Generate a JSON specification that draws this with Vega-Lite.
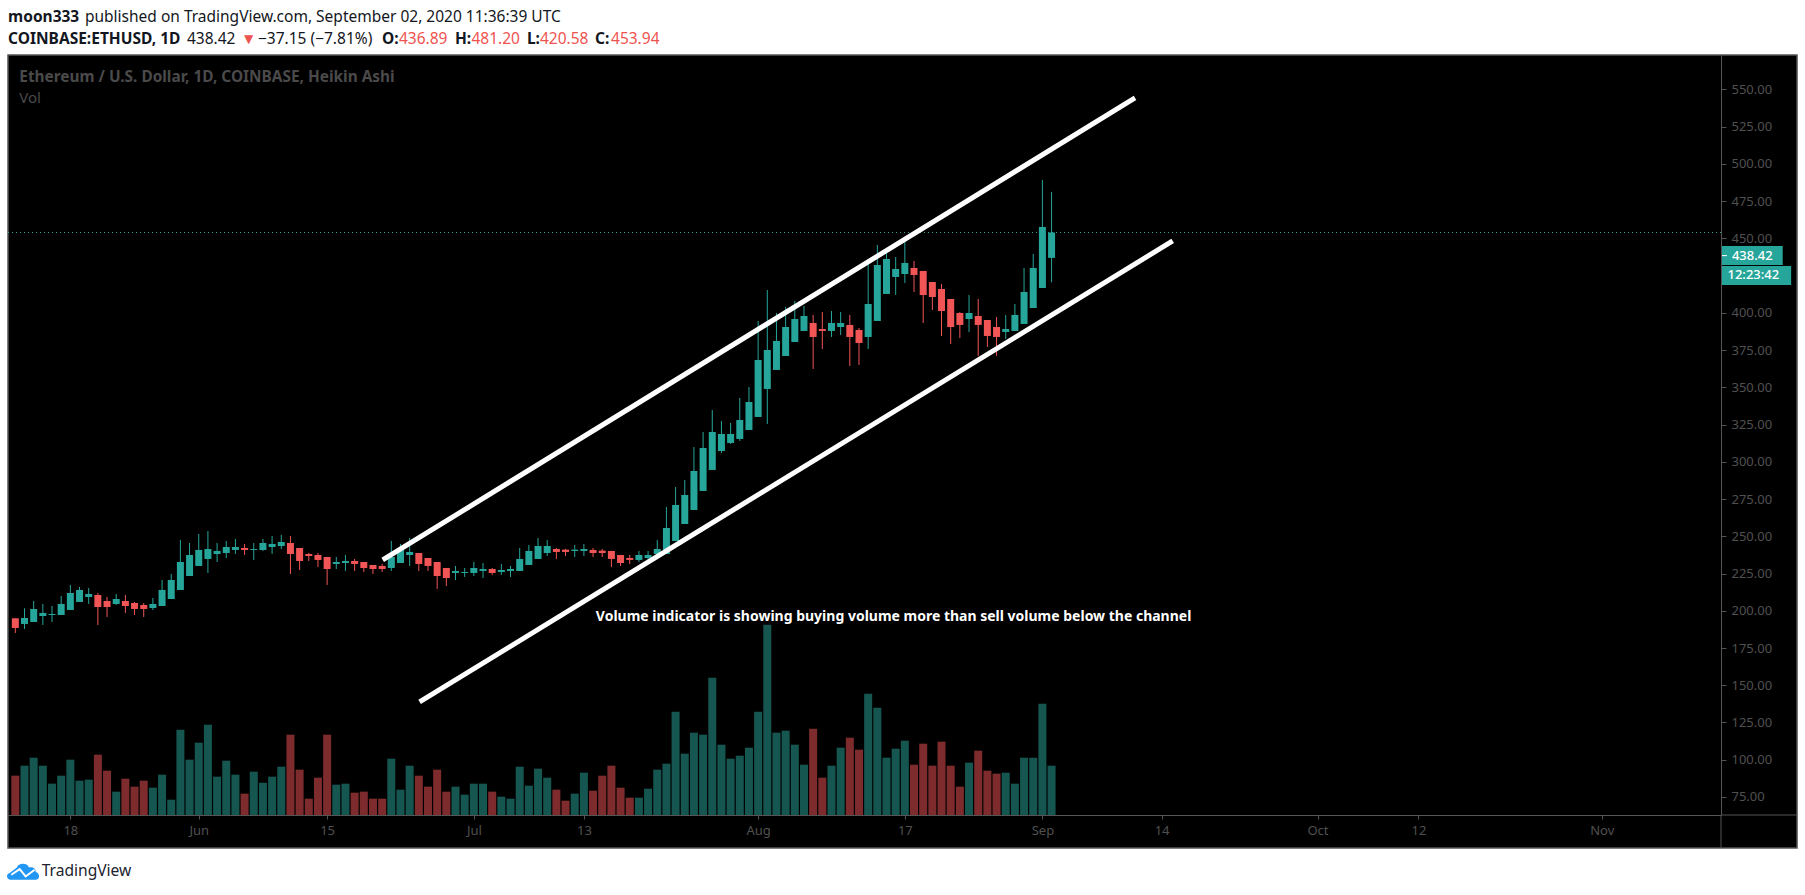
{
  "$schema": "https://vega.github.io/schema/vega-lite/v6.json",
  "width": 1713,
  "height": 760,
  "padding": {"left": 8, "top": 55, "right": 84, "bottom": 80},
  "autosize": {"type": "none"},
  "background": "#ffffff",
  "config": {"view": {"stroke": null}},
  "datasets": {
    "ohlc": [
      {"date":"2020-05-12","open":194.95,"high":194.95,"low":185.1,"close":188.46,"side":"down","volume":118},
      {"date":"2020-05-13","open":191.14,"high":201.66,"low":187.78,"close":195.17,"side":"up","volume":148},
      {"date":"2020-05-14","open":192.48,"high":206.58,"low":192.48,"close":201.21,"side":"up","volume":172},
      {"date":"2020-05-15","open":196.51,"high":204.57,"low":190.47,"close":198.53,"side":"up","volume":148},
      {"date":"2020-05-16","open":197.18,"high":203.22,"low":192.48,"close":197.85,"side":"up","volume":94},
      {"date":"2020-05-17","open":197.18,"high":209.94,"low":197.18,"close":204.57,"side":"up","volume":118},
      {"date":"2020-05-18","open":200.54,"high":217.32,"low":200.54,"close":211.95,"side":"up","volume":166},
      {"date":"2020-05-19","open":205.91,"high":215.98,"low":205.91,"close":213.97,"side":"up","volume":103},
      {"date":"2020-05-20","open":209.27,"high":215.31,"low":204.57,"close":211.28,"side":"up","volume":106},
      {"date":"2020-05-21","open":210.61,"high":211.95,"low":190.47,"close":202.55,"side":"down","volume":181},
      {"date":"2020-05-22","open":206.58,"high":209.27,"low":195.84,"close":202.55,"side":"down","volume":133},
      {"date":"2020-05-23","open":204.57,"high":211.28,"low":203.9,"close":207.92,"side":"up","volume":70},
      {"date":"2020-05-24","open":206.58,"high":210.61,"low":198.53,"close":203.22,"side":"down","volume":109},
      {"date":"2020-05-25","open":205.24,"high":205.91,"low":197.18,"close":201.21,"side":"down","volume":85},
      {"date":"2020-05-26","open":203.9,"high":205.24,"low":195.84,"close":201.21,"side":"down","volume":103},
      {"date":"2020-05-27","open":201.88,"high":208.6,"low":200.54,"close":204.57,"side":"up","volume":82},
      {"date":"2020-05-28","open":203.22,"high":220.68,"low":203.22,"close":213.97,"side":"up","volume":121},
      {"date":"2020-05-29","open":207.92,"high":224.71,"low":207.92,"close":220.68,"side":"up","volume":46},
      {"date":"2020-05-30","open":213.97,"high":247.53,"low":213.97,"close":232.76,"side":"up","volume":256},
      {"date":"2020-05-31","open":223.36,"high":245.52,"low":223.36,"close":237.46,"side":"up","volume":166},
      {"date":"2020-06-01","open":230.08,"high":251.56,"low":230.08,"close":240.82,"side":"up","volume":217},
      {"date":"2020-06-02","open":234.78,"high":253.57,"low":225.38,"close":241.49,"side":"up","volume":271},
      {"date":"2020-06-03","open":238.13,"high":245.52,"low":232.76,"close":240.15,"side":"up","volume":115},
      {"date":"2020-06-04","open":238.8,"high":246.86,"low":235.45,"close":242.83,"side":"up","volume":163},
      {"date":"2020-06-05","open":240.82,"high":248.2,"low":238.13,"close":242.83,"side":"up","volume":121},
      {"date":"2020-06-06","open":242.16,"high":244.85,"low":237.46,"close":240.82,"side":"down","volume":64},
      {"date":"2020-06-07","open":240.82,"high":245.52,"low":234.11,"close":241.49,"side":"up","volume":130},
      {"date":"2020-06-08","open":240.82,"high":248.2,"low":240.15,"close":245.52,"side":"up","volume":97},
      {"date":"2020-06-09","open":242.83,"high":250.22,"low":238.13,"close":244.85,"side":"up","volume":115},
      {"date":"2020-06-10","open":243.5,"high":250.89,"low":241.49,"close":246.19,"side":"up","volume":145},
      {"date":"2020-06-11","open":245.52,"high":250.22,"low":224.71,"close":238.13,"side":"down","volume":241},
      {"date":"2020-06-12","open":242.16,"high":242.16,"low":227.39,"close":233.43,"side":"down","volume":136},
      {"date":"2020-06-13","open":238.13,"high":238.8,"low":233.43,"close":236.79,"side":"down","volume":49},
      {"date":"2020-06-14","open":237.46,"high":238.8,"low":229.41,"close":234.11,"side":"down","volume":112},
      {"date":"2020-06-15","open":236.12,"high":236.12,"low":217.32,"close":228.06,"side":"down","volume":241},
      {"date":"2020-06-16","open":231.42,"high":236.12,"low":228.06,"close":232.76,"side":"up","volume":91},
      {"date":"2020-06-17","open":232.09,"high":237.46,"low":226.72,"close":233.43,"side":"up","volume":94},
      {"date":"2020-06-18","open":233.43,"high":234.78,"low":226.72,"close":231.42,"side":"down","volume":67},
      {"date":"2020-06-19","open":232.76,"high":232.76,"low":226.05,"close":228.73,"side":"down","volume":70},
      {"date":"2020-06-20","open":230.75,"high":230.75,"low":224.71,"close":228.06,"side":"down","volume":49},
      {"date":"2020-06-21","open":230.08,"high":231.42,"low":226.05,"close":228.06,"side":"down","volume":49},
      {"date":"2020-06-22","open":228.73,"high":246.86,"low":226.72,"close":236.12,"side":"up","volume":169},
      {"date":"2020-06-23","open":232.09,"high":244.85,"low":232.09,"close":240.82,"side":"up","volume":76},
      {"date":"2020-06-24","open":237.46,"high":248.87,"low":230.08,"close":239.48,"side":"up","volume":148},
      {"date":"2020-06-25","open":238.8,"high":238.8,"low":226.72,"close":231.42,"side":"down","volume":118},
      {"date":"2020-06-26","open":235.45,"high":235.45,"low":226.72,"close":230.08,"side":"down","volume":85},
      {"date":"2020-06-27","open":232.76,"high":232.76,"low":214.64,"close":223.36,"side":"down","volume":136},
      {"date":"2020-06-28","open":228.73,"high":228.73,"low":216.65,"close":222.02,"side":"down","volume":70},
      {"date":"2020-06-29","open":225.38,"high":230.08,"low":220.68,"close":226.72,"side":"up","volume":85},
      {"date":"2020-06-30","open":225.38,"high":228.73,"low":222.69,"close":226.05,"side":"up","volume":61},
      {"date":"2020-07-01","open":225.38,"high":232.76,"low":223.36,"close":228.73,"side":"up","volume":94},
      {"date":"2020-07-02","open":226.72,"high":232.09,"low":222.02,"close":228.06,"side":"up","volume":94},
      {"date":"2020-07-03","open":228.06,"high":228.73,"low":224.04,"close":225.38,"side":"down","volume":70},
      {"date":"2020-07-04","open":226.05,"high":231.42,"low":224.04,"close":227.39,"side":"up","volume":55},
      {"date":"2020-07-05","open":226.72,"high":230.08,"low":222.69,"close":228.06,"side":"up","volume":49},
      {"date":"2020-07-06","open":226.72,"high":242.16,"low":226.72,"close":234.78,"side":"up","volume":145},
      {"date":"2020-07-07","open":230.75,"high":244.17,"low":230.75,"close":240.15,"side":"up","volume":88},
      {"date":"2020-07-08","open":234.78,"high":248.87,"low":234.78,"close":243.5,"side":"up","volume":139},
      {"date":"2020-07-09","open":238.8,"high":247.53,"low":236.79,"close":243.5,"side":"up","volume":112},
      {"date":"2020-07-10","open":241.49,"high":242.16,"low":234.78,"close":239.48,"side":"down","volume":76},
      {"date":"2020-07-11","open":241.04,"high":241.49,"low":236.79,"close":239.48,"side":"down","volume":43},
      {"date":"2020-07-12","open":240.15,"high":244.17,"low":236.12,"close":241.04,"side":"up","volume":64},
      {"date":"2020-07-13","open":240.15,"high":244.85,"low":236.79,"close":241.49,"side":"up","volume":127},
      {"date":"2020-07-14","open":240.82,"high":242.16,"low":236.12,"close":238.8,"side":"down","volume":73},
      {"date":"2020-07-15","open":240.37,"high":241.49,"low":236.12,"close":238.8,"side":"down","volume":118},
      {"date":"2020-07-16","open":240.15,"high":240.15,"low":229.41,"close":234.78,"side":"down","volume":148},
      {"date":"2020-07-17","open":237.46,"high":237.46,"low":230.08,"close":232.09,"side":"down","volume":82},
      {"date":"2020-07-18","open":235.45,"high":237.46,"low":231.42,"close":234.11,"side":"down","volume":52},
      {"date":"2020-07-19","open":234.11,"high":240.15,"low":232.76,"close":237.46,"side":"up","volume":52},
      {"date":"2020-07-20","open":235.45,"high":240.15,"low":234.11,"close":237.46,"side":"up","volume":79},
      {"date":"2020-07-21","open":238.13,"high":247.53,"low":238.13,"close":241.49,"side":"up","volume":136},
      {"date":"2020-07-22","open":238.14,"high":269.69,"low":238.14,"close":255.59,"side":"up","volume":154},
      {"date":"2020-07-23","open":246.86,"high":283.11,"low":246.86,"close":271.03,"side":"up","volume":310},
      {"date":"2020-07-24","open":258.27,"high":287.81,"low":258.27,"close":277.74,"side":"up","volume":184},
      {"date":"2020-07-25","open":267.67,"high":309.97,"low":267.67,"close":293.85,"side":"up","volume":247},
      {"date":"2020-07-26","open":280.43,"high":320.04,"low":280.43,"close":309.29,"side":"up","volume":241},
      {"date":"2020-07-27","open":294.53,"high":334.8,"low":294.53,"close":320.04,"side":"up","volume":412},
      {"date":"2020-07-28","open":307.28,"high":327.42,"low":305.94,"close":318.69,"side":"up","volume":211},
      {"date":"2020-07-29","open":312.65,"high":326.08,"low":311.98,"close":318.69,"side":"up","volume":169},
      {"date":"2020-07-30","open":315.34,"high":342.86,"low":313.99,"close":328.09,"side":"up","volume":178},
      {"date":"2020-07-31","open":321.38,"high":350.24,"low":321.38,"close":340.17,"side":"up","volume":202},
      {"date":"2020-08-01","open":330.11,"high":394.55,"low":330.11,"close":368.37,"side":"up","volume":310},
      {"date":"2020-08-02","open":348.9,"high":415.36,"low":325.41,"close":375.08,"side":"up","volume":571},
      {"date":"2020-08-03","open":361.66,"high":399.92,"low":361.66,"close":381.13,"side":"up","volume":247},
      {"date":"2020-08-04","open":371.05,"high":403.95,"low":371.05,"close":390.52,"side":"up","volume":253},
      {"date":"2020-08-05","open":380.45,"high":407.98,"low":380.45,"close":395.89,"side":"up","volume":211},
      {"date":"2020-08-06","open":387.84,"high":404.62,"low":387.84,"close":397.91,"side":"up","volume":151},
      {"date":"2020-08-07","open":393.21,"high":398.58,"low":362.33,"close":383.81,"side":"down","volume":259},
      {"date":"2020-08-08","open":389.18,"high":400.59,"low":375.75,"close":387.84,"side":"down","volume":112},
      {"date":"2020-08-09","open":387.84,"high":401.26,"low":383.81,"close":393.21,"side":"up","volume":148},
      {"date":"2020-08-10","open":390.52,"high":400.59,"low":385.15,"close":393.21,"side":"up","volume":202},
      {"date":"2020-08-11","open":391.87,"high":398.58,"low":364.34,"close":383.81,"side":"down","volume":232},
      {"date":"2020-08-12","open":388.51,"high":389.85,"low":365.01,"close":379.78,"side":"down","volume":196},
      {"date":"2020-08-13","open":383.81,"high":433.26,"low":375.75,"close":405.96,"side":"up","volume":364},
      {"date":"2020-08-14","open":394.55,"high":445.57,"low":394.55,"close":432.14,"side":"up","volume":322},
      {"date":"2020-08-15","open":412.68,"high":442.21,"low":412.68,"close":436.17,"side":"up","volume":172},
      {"date":"2020-08-16","open":424.09,"high":437.51,"low":412,"close":429.46,"side":"up","volume":199},
      {"date":"2020-08-17","open":426.1,"high":448.93,"low":420.06,"close":433.49,"side":"up","volume":223},
      {"date":"2020-08-18","open":430.13,"high":434.83,"low":414.02,"close":425.43,"side":"down","volume":151},
      {"date":"2020-08-19","open":428.12,"high":428.12,"low":393.21,"close":412,"side":"down","volume":214},
      {"date":"2020-08-20","open":420.73,"high":420.73,"low":401.94,"close":410.66,"side":"down","volume":148},
      {"date":"2020-08-21","open":416.03,"high":419.39,"low":384.48,"close":401.26,"side":"down","volume":220},
      {"date":"2020-08-22","open":409.32,"high":409.32,"low":379.11,"close":390.52,"side":"down","volume":148},
      {"date":"2020-08-23","open":399.92,"high":400.59,"low":383.14,"close":391.87,"side":"down","volume":85},
      {"date":"2020-08-24","open":395.89,"high":412,"low":387.17,"close":399.92,"side":"up","volume":157},
      {"date":"2020-08-25","open":397.91,"high":409.32,"low":371.05,"close":391.87,"side":"down","volume":193},
      {"date":"2020-08-26","open":395.22,"high":395.22,"low":377.1,"close":384.48,"side":"down","volume":133},
      {"date":"2020-08-27","open":390.52,"high":397.24,"low":371.05,"close":383.81,"side":"down","volume":124},
      {"date":"2020-08-28","open":387.17,"high":398.58,"low":382.47,"close":389.18,"side":"up","volume":127},
      {"date":"2020-08-29","open":387.84,"high":405.96,"low":387.84,"close":398.58,"side":"up","volume":94},
      {"date":"2020-08-30","open":392.54,"high":430.13,"low":392.54,"close":414.02,"side":"up","volume":172},
      {"date":"2020-08-31","open":403.28,"high":439.53,"low":403.28,"close":430.13,"side":"up","volume":172},
      {"date":"2020-09-01","open":416.7,"high":489.2,"low":416.7,"close":457.65,"side":"up","volume":334},
      {"date":"2020-09-02","open":436.89,"high":481.2,"low":420.58,"close":453.94,"side":"up","volume":148}
    ]
  },
  "encoding": {
    "x": {
      "field": "date",
      "type": "temporal",
      "title": null,
      "scale": {"type": "utc", "padding": 0, "domain": ["2020-05-11T04:48:00Z", "2020-11-14T00:00:00Z"]},
      "axis": {
        "values": ["2020-05-18", "2020-06-01", "2020-06-15", "2020-07-01", "2020-07-13", "2020-08-01", "2020-08-17", "2020-09-01", "2020-09-14", "2020-10-01", "2020-10-12", "2020-11-01"],
        "labelExpr": "utcdate(datum.value) == 1 ? utcFormat(datum.value, '%b') : utcFormat(datum.value, '%-d')",
        "grid": false,
        "zindex": 1,
        "domainColor": "#555555",
        "tickColor": "#555555",
        "tickSize": 4,
        "labelColor": "#505050",
        "labelFont": "Noto Sans",
        "labelFontSize": 13,
        "labelPadding": 5,
        "labelOverlap": false
      }
    }
  },
  "resolve": {"scale": {"y": "independent", "color": "independent"}},
  "layer": [
    {
      "data": {
        "values": [{"date": "2020-05-11T04:48:00Z", "date2": "2020-11-22T07:00:00Z", "price": 573.1, "price2": 40.8}],
        "format": {"parse": {"date2": "date"}}
      },
      "mark": {"type": "rect", "fill": "#000000", "stroke": "#555555", "strokeWidth": 1.5},
      "encoding": {
        "x2": {"field": "date2"},
        "y": {"field": "price", "type": "quantitative", "axis": null, "scale": {"domain": [62.9, 573.1]}},
        "y2": {"field": "price2"}
      }
    },
    {
      "data": {"name": "ohlc"},
      "mark": {"type": "bar", "size": 8},
      "encoding": {
        "y": {"field": "volume", "type": "quantitative", "axis": null, "scale": {"domain": [0, 2280]}},
        "color": {"field": "side", "type": "nominal", "legend": null, "scale": {"domain": ["up", "down"], "range": ["#165650", "#7e2b2d"]}}
      }
    },
    {
      "encoding": {
        "y": {
          "field": "price",
          "type": "quantitative",
          "title": null,
          "scale": {"domain": [62.9, 573.1]},
          "axis": {
            "orient": "right",
            "values": [75, 100, 125, 150, 175, 200, 225, 250, 275, 300, 325, 350, 375, 400, 450, 475, 500, 525, 550],
            "format": ".2f",
            "grid": false,
            "zindex": 1,
            "domainColor": "#555555",
            "tickColor": "#555555",
            "tickSize": 5,
            "labelColor": "#505050",
            "labelFont": "Noto Sans",
            "labelFontSize": 13,
            "labelPadding": 5
          }
        }
      },
      "layer": [
        {
          "data": {"values": [{"date": "2020-11-14", "date2": "2020-11-22T07:00:00Z", "price": 62.9}], "format": {"parse": {"date2": "date"}}},
          "mark": {"type": "rule", "color": "#555555"},
          "encoding": {"x2": {"field": "date2"}}
        },
        {
          "data": {"values": [{"date": "2020-11-14", "price": 62.9, "price2": 40.8}]},
          "mark": {"type": "rule", "color": "#555555"},
          "encoding": {"y2": {"field": "price2"}}
        },
        {
          "data": {"values": [{"date": "2020-05-11T04:48:00Z", "date2": "2020-11-14", "price": 453.94}], "format": {"parse": {"date2": "date"}}},
          "mark": {"type": "rule", "color": "#26a69a", "strokeDash": [1, 3], "strokeWidth": 1},
          "encoding": {"x2": {"field": "date2"}}
        },
        {
          "data": {"name": "ohlc"},
          "mark": {"type": "rule", "strokeWidth": 1},
          "encoding": {
            "y": {"field": "low", "type": "quantitative"},
            "y2": {"field": "high"},
            "color": {"field": "side", "type": "nominal", "legend": null, "scale": {"domain": ["up", "down"], "range": ["#26a69a", "#f25555"]}}
          }
        },
        {
          "data": {"name": "ohlc"},
          "mark": {"type": "bar", "size": 7},
          "encoding": {
            "y": {"field": "open", "type": "quantitative"},
            "y2": {"field": "close"},
            "color": {"field": "side", "type": "nominal", "legend": null, "scale": {"domain": ["up", "down"], "range": ["#26a69a", "#f25555"]}}
          }
        },
        {
          "data": {
            "values": [
              {"date": "2020-06-21T01:30:00Z", "price": 234.1, "channel": "upper"},
              {"date": "2020-09-11T02:24:00Z", "price": 544.3, "channel": "upper"},
              {"date": "2020-06-25T02:00:00Z", "price": 138.8, "channel": "lower"},
              {"date": "2020-09-15T05:00:00Z", "price": 448.3, "channel": "lower"}
            ]
          },
          "mark": {"type": "line", "color": "#ffffff", "strokeWidth": 5, "strokeCap": "butt"},
          "encoding": {"detail": {"field": "channel"}}
        },
        {
          "data": {"values": [{"date": "2020-07-14T07:12:00Z", "price": 195.8, "label": "Volume indicator is showing buying volume more than sell volume below the channel"}]},
          "mark": {"type": "text", "align": "left", "baseline": "middle", "color": "#ffffff", "font": "Noto Sans", "fontSize": 14, "fontWeight": "bold"},
          "encoding": {"text": {"field": "label"}}
        },
        {
          "data": {
            "values": [
              {"date": "2020-11-14", "date2": "2020-11-20T17:30:00Z", "price": 444.9, "price2": 432.1},
              {"date": "2020-11-14T02:30:00Z", "date2": "2020-11-21T15:36:00Z", "price": 431.5, "price2": 418.7}
            ],
            "format": {"parse": {"date2": "date"}}
          },
          "mark": {"type": "rect", "fill": "#26a69a"},
          "encoding": {"x2": {"field": "date2"}, "y2": {"field": "price2"}}
        },
        {
          "data": {"values": [{"date": "2020-11-14", "date2": "2020-11-14T15:36:00Z", "price": 438.42}], "format": {"parse": {"date2": "date"}}},
          "mark": {"type": "rule", "color": "#ffffff"},
          "encoding": {"x2": {"field": "date2"}}
        },
        {
          "data": {
            "values": [
              {"date": "2020-11-15T04:30:00Z", "price": 438.42, "label": "438.42"},
              {"date": "2020-11-14T17:00:00Z", "price": 425.1, "label": "12:23:42"}
            ]
          },
          "mark": {"type": "text", "align": "left", "baseline": "middle", "color": "#ffffff", "font": "Noto Sans", "fontSize": 13, "fontWeight": 500},
          "encoding": {"text": {"field": "label"}}
        },
        {
          "data": {"values": [{"date": "2020-05-12T10:20:00Z", "price": 558.4, "label": "Ethereum / U.S. Dollar, 1D, COINBASE, Heikin Ashi"}]},
          "mark": {"type": "text", "align": "left", "baseline": "middle", "color": "#4a4a4a", "font": "Noto Sans", "fontSize": 15.4, "fontWeight": "bold"},
          "encoding": {"text": {"field": "label"}}
        },
        {
          "data": {"values": [{"date": "2020-05-12T10:20:00Z", "price": 544.3, "label": "Vol"}]},
          "mark": {"type": "text", "align": "left", "baseline": "middle", "color": "#4a4a4a", "font": "Noto Sans", "fontSize": 15},
          "encoding": {"text": {"field": "label"}}
        },
        {
          "data": {
            "values": [
              {"date": "2020-05-11T05:00:00Z", "price": 598.6, "label": "moon333"},
              {"date": "2020-05-11T05:00:00Z", "price": 583.9, "label": "COINBASE:ETHUSD, 1D"},
              {"date": "2020-06-20T23:30:00Z", "price": 583.9, "label": "O:"},
              {"date": "2020-06-28T22:30:00Z", "price": 583.9, "label": "H:"},
              {"date": "2020-07-06T19:00:00Z", "price": 583.9, "label": "L:"},
              {"date": "2020-07-14T05:00:00Z", "price": 583.9, "label": "C:"}
            ]
          },
          "mark": {"type": "text", "align": "left", "baseline": "middle", "color": "#131722", "font": "Noto Sans", "fontSize": 15.5, "fontWeight": "bold"},
          "encoding": {"text": {"field": "label"}}
        },
        {
          "data": {
            "values": [
              {"date": "2020-05-19T14:10:00Z", "price": 598.6, "label": "published on TradingView.com, September 02, 2020 11:36:39 UTC"},
              {"date": "2020-05-30T17:15:00Z", "price": 583.9, "label": "438.42"},
              {"date": "2020-06-07T11:00:00Z", "price": 583.9, "label": "−37.15 (−7.81%)"}
            ]
          },
          "mark": {"type": "text", "align": "left", "baseline": "middle", "color": "#131722", "font": "Noto Sans", "fontSize": 15.5},
          "encoding": {"text": {"field": "label"}}
        },
        {
          "data": {
            "values": [
              {"date": "2020-06-05T14:24:00Z", "price": 583.9, "label": "▼"},
              {"date": "2020-06-22T20:00:00Z", "price": 583.9, "label": "436.89"},
              {"date": "2020-06-30T17:45:00Z", "price": 583.9, "label": "481.20"},
              {"date": "2020-07-08T05:00:00Z", "price": 583.9, "label": "420.58"},
              {"date": "2020-07-15T23:00:00Z", "price": 583.9, "label": "453.94"}
            ]
          },
          "mark": {"type": "text", "align": "left", "baseline": "middle", "color": "#ef5350", "font": "Noto Sans", "fontSize": 15.5},
          "encoding": {"text": {"field": "label"}}
        },
        {
          "data": {"values": [{"date": "2020-05-12T20:00:00Z", "price": 25}]},
          "mark": {
            "type": "point",
            "filled": true,
            "fill": "#2196f3",
            "opacity": 1,
            "size": 4096,
            "shape": "M -0.385 0.26 C -0.52 0.26 -0.54 0.083 -0.417 0.052 L -0.1875 -0.125 C -0.156 -0.26 0.125 -0.292 0.1875 -0.125 C 0.3125 -0.156 0.417 -0.083 0.396 0.02 C 0.54 0.052 0.54 0.26 0.396 0.26 Z"
          }
        },
        {
          "data": {"values": [{"date": "2020-05-12T20:00:00Z", "price": 25}]},
          "mark": {
            "type": "point",
            "filled": false,
            "stroke": "#ffffff",
            "strokeWidth": 2,
            "opacity": 1,
            "size": 4096,
            "shape": "M -0.365 0.104 L -0.104 -0.073 L 0.083 0.156 L 0.365 -0.052"
          }
        },
        {
          "data": {"values": [{"date": "2020-05-14T20:50:00Z", "price": 25, "label": "TradingView"}]},
          "mark": {"type": "text", "align": "left", "baseline": "middle", "color": "#20232e", "font": "Noto Sans", "fontSize": 15.6},
          "encoding": {"text": {"field": "label"}}
        }
      ]
    }
  ]
}
